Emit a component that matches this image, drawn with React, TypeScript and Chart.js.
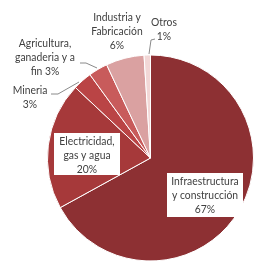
import React, { useEffect, useRef } from "react";
import { Chart, registerables } from "chart.js";

Chart.register(...registerables);

const categories = [
  "Infraestructura y construcción",
  "Electricidad, gas y agua",
  "Mineria",
  "Agricultura, ganaderia y a fin",
  "Industria y Fabricación",
  "Otros",
];
const values = [67, 20, 3, 3, 6, 1];
const labelLines = [
  ["Infraestructura", "y construcción", "67%"],
  ["Electricidad,", "gas y agua", "20%"],
  ["Mineria", "3%"],
  ["Agricultura,", "ganaderia y a", "fin 3%"],
  ["Industria y", "Fabricación", "6%"],
  ["Otros", "1%"],
];
const colors = ["#8D3033", "#A6393A", "#BA4445", "#C85B5B", "#DAA1A1", "#F2D7D6"];

type Layout = { x: number; y: number; box?: [number, number, number, number]; leader?: number[][] };
const layouts: Layout[] = [
  { x: 205, y: 181, box: [167, 173, 76, 44] },
  { x: 87, y: 141, box: [54, 133, 66, 42] },
  { x: 30, y: 90, leader: [[51, 94], [58, 94], [79, 82]] },
  { x: 45, y: 43, leader: [[80, 63], [86, 63], [97, 68]] },
  { x: 117, y: 17 },
  { x: 164, y: 22, leader: [[155, 39], [151, 40], [149, 54]] },
];

const labelPlugin = {
  id: "pieLabels",
  afterDatasetsDraw(chart: any) {
    const ctx = chart.ctx;
    const meta = chart.getDatasetMeta(0);
    ctx.save();
    ctx.font = "11.5px Lato";
    ctx.textAlign = "center";
    ctx.textBaseline = "middle";
    meta.data.forEach((arc: any, i: number) => {
      const l = layouts[i];
      if (!l) return;
      if (l.box) {
        ctx.fillStyle = "#FFFFFF";
        ctx.fillRect(l.box[0], l.box[1], l.box[2], l.box[3]);
      }
      if (l.leader) {
        ctx.strokeStyle = "#8A8A8A";
        ctx.lineWidth = 1;
        ctx.beginPath();
        l.leader.forEach((p, j) => (j === 0 ? ctx.moveTo(p[0], p[1]) : ctx.lineTo(p[0], p[1])));
        ctx.stroke();
      }
      ctx.fillStyle = "#404040";
      labelLines[i].forEach((t, j) => {
        const w = ctx.measureText(t).width * 0.9;
        ctx.fillText(t, l.x, l.y + j * 14, w);
      });
    });
    ctx.restore();
  },
};

export default function App() {
  const ref = useRef<HTMLCanvasElement>(null);
  useEffect(() => {
    document.body.style.margin = "0";
    const chart = new Chart(ref.current!, {
      type: "pie",
      data: {
        labels: categories,
        datasets: [
          {
            data: values,
            backgroundColor: colors,
            borderColor: "#FFFFFF",
            borderWidth: 1,
          },
        ],
      },
      options: {
        animation: false,
        responsive: false,
        layout: { padding: { left: 47, right: 0, top: 54, bottom: 2 } },
        plugins: { legend: { display: false }, tooltip: { enabled: false } },
      },
      plugins: [labelPlugin],
    });
    return () => chart.destroy();
  }, []);
  return (
    <div style={{ width: 254, height: 264, background: "#FFFFFF" }}>
      <canvas ref={ref} width={254} height={264} />
    </div>
  );
}
